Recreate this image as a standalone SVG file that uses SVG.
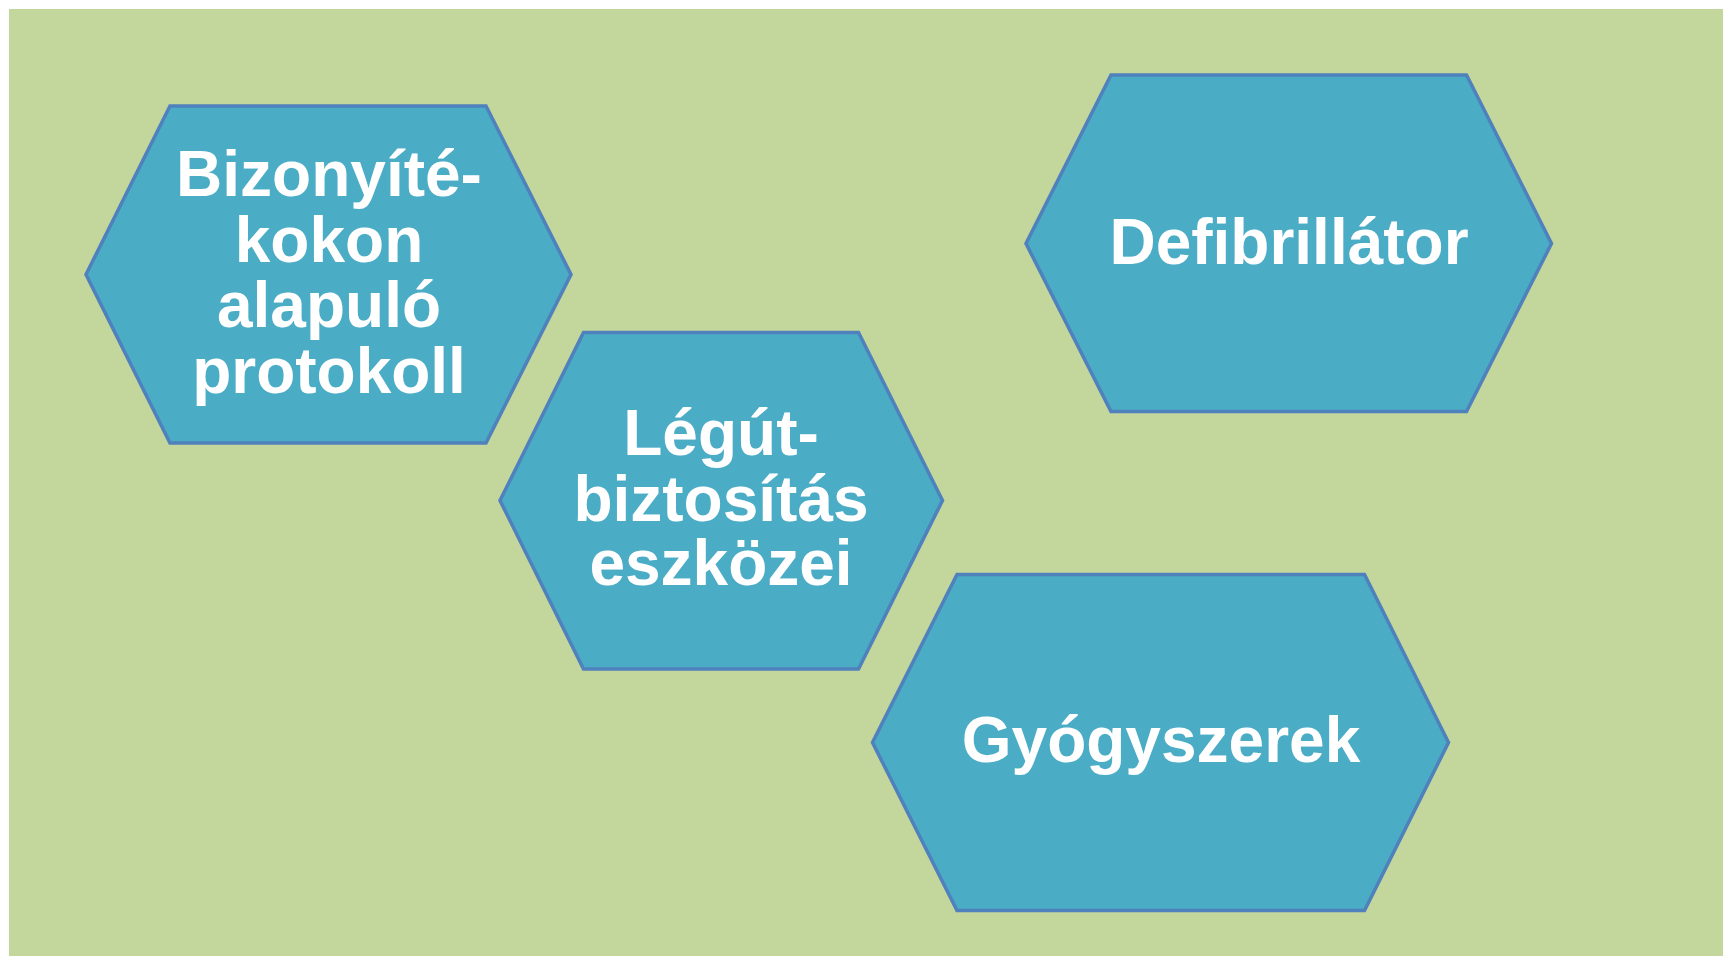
<svg xmlns="http://www.w3.org/2000/svg" width="1723" height="956" viewBox="0 0 1723 956">
<style>
.hex{fill:#4BACC6;stroke:#4F81BD;stroke-width:3.5;stroke-linejoin:miter}
.lbl{font-family:"Liberation Sans",Arial,sans-serif;font-weight:bold;font-size:64px;fill:#FFFFFF;text-anchor:middle}
</style>
<rect x="0" y="0" width="1723" height="956" fill="#FFFFFF"/>
<rect x="9" y="9" width="1714" height="947" fill="#C3D69B"/>
<g id="connectors"></g>
<g id="node-bizonyitek">
<polygon class="hex" points="170,106 486,106 571,274.5 486,443 170,443 86,274.5"/>
<text class="lbl" x="329" y="196">Bizonyíté-</text>
<text class="lbl" x="329" y="262">kokon</text>
<text class="lbl" x="329" y="327">alapuló</text>
<text class="lbl" x="329" y="393">protokoll</text>
</g>
<g id="node-legut">
<polygon class="hex" points="583.5,332.5 858.5,332.5 942.5,500.5 858.5,669 583.5,669 500,500.5"/>
<text class="lbl" x="721" y="455">Légút-</text>
<text class="lbl" x="721" y="521">biztosítás</text>
<text class="lbl" x="721" y="585">eszközei</text>
</g>
<g id="node-defibrillator">
<polygon class="hex" points="1111,75 1466.5,75 1551.5,243.5 1466.5,411.5 1111,411.5 1026,243.5"/>
<text class="lbl" x="1289" y="264">Defibrillátor</text>
</g>
<g id="node-gyogyszerek">
<polygon class="hex" points="957,574.5 1364.5,574.5 1448.5,742.5 1364.5,910.5 957,910.5 872.5,742.5"/>
<text class="lbl" x="1161" y="762">Gyógyszerek</text>
</g>
</svg>
